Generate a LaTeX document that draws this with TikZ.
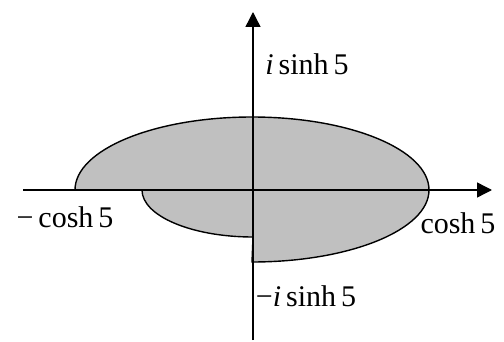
\documentclass[tikz,border=0pt]{standalone}
\usepackage{fontspec}
\setmainfont{Liberation Serif}
\usetikzlibrary{arrows.meta}
\begin{document}
\begin{tikzpicture}[x=1pt,y=1pt,
  axis/.style={line width=1.4pt,-{Triangle[length=15pt,width=15pt]}},
  region/.style={fill={rgb,255:red,192;green,192;blue,192},draw=black,line width=1.4pt},
  lbl/.style={font=\fontsize{30}{32}\selectfont,inner sep=0pt}]
\useasboundingbox (0,0) rectangle (504,341);
\coordinate (O) at (253,151);
\coordinate (xl) at (23,151);
\coordinate (xr) at (492,151);
\coordinate (yb) at (253,1);
\coordinate (yt) at (253,329);
% shaded region
\path[region] (75,151) arc[start angle=180,end angle=0,x radius=177,y radius=73]
  arc[start angle=0,end angle=-90,x radius=177,y radius=72]
  -- (253,104)
  arc[start angle=-90,end angle=-180,x radius=111,y radius=47] -- cycle;
\draw[axis] (xl) -- (xr);
\draw[axis] (yb) -- (yt);
\node[lbl] (ip) at (307,277) {{\itshape i}\,sinh\,5};
\node[lbl] (im) at (306,45) {−{\itshape i}\,sinh\,5};
\node[lbl] (cm) at (65,124) {−\,cosh\,5};
\node[lbl] (cp) at (458,118) {cosh\,5};
\end{tikzpicture}
\end{document}
